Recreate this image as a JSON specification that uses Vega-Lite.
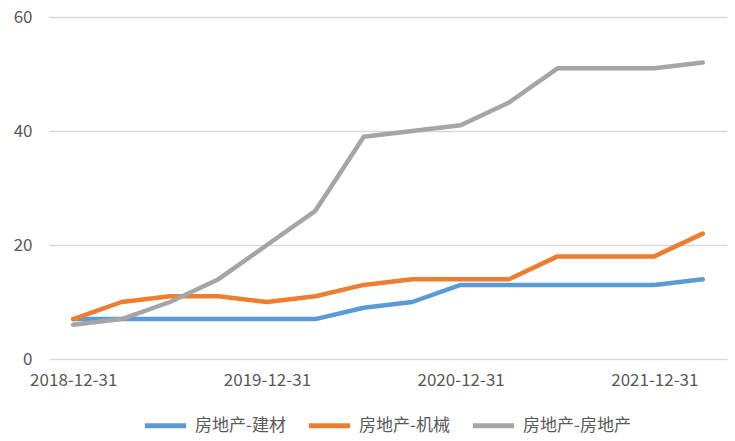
{
  "$schema": "https://vega.github.io/schema/vega-lite/v6.json",
  "width": 678,
  "height": 342,
  "autosize": {"type": "none"},
  "padding": {"left": 49, "top": 17, "right": 8, "bottom": 82},
  "background": "white",
  "config": {
    "view": {"stroke": null},
    "font": "Noto Sans CJK SC",
    "axis": {"labelFont": "Noto Sans CJK SC", "labelColor": "#595959", "labelFontSize": 17, "domain": false, "ticks": false, "title": null}
  },
  "data": {
    "values": [
      {"date": "2018-12-31", "s": "房地产-建材", "v": 7},
      {"date": "2019-03-31", "s": "房地产-建材", "v": 7},
      {"date": "2019-06-30", "s": "房地产-建材", "v": 7},
      {"date": "2019-09-30", "s": "房地产-建材", "v": 7},
      {"date": "2019-12-31", "s": "房地产-建材", "v": 7},
      {"date": "2020-03-31", "s": "房地产-建材", "v": 7},
      {"date": "2020-06-30", "s": "房地产-建材", "v": 9},
      {"date": "2020-09-30", "s": "房地产-建材", "v": 10},
      {"date": "2020-12-31", "s": "房地产-建材", "v": 13},
      {"date": "2021-03-31", "s": "房地产-建材", "v": 13},
      {"date": "2021-06-30", "s": "房地产-建材", "v": 13},
      {"date": "2021-09-30", "s": "房地产-建材", "v": 13},
      {"date": "2021-12-31", "s": "房地产-建材", "v": 13},
      {"date": "2022-03-31", "s": "房地产-建材", "v": 14},
      {"date": "2018-12-31", "s": "房地产-机械", "v": 7},
      {"date": "2019-03-31", "s": "房地产-机械", "v": 10},
      {"date": "2019-06-30", "s": "房地产-机械", "v": 11},
      {"date": "2019-09-30", "s": "房地产-机械", "v": 11},
      {"date": "2019-12-31", "s": "房地产-机械", "v": 10},
      {"date": "2020-03-31", "s": "房地产-机械", "v": 11},
      {"date": "2020-06-30", "s": "房地产-机械", "v": 13},
      {"date": "2020-09-30", "s": "房地产-机械", "v": 14},
      {"date": "2020-12-31", "s": "房地产-机械", "v": 14},
      {"date": "2021-03-31", "s": "房地产-机械", "v": 14},
      {"date": "2021-06-30", "s": "房地产-机械", "v": 18},
      {"date": "2021-09-30", "s": "房地产-机械", "v": 18},
      {"date": "2021-12-31", "s": "房地产-机械", "v": 18},
      {"date": "2022-03-31", "s": "房地产-机械", "v": 22},
      {"date": "2018-12-31", "s": "房地产-房地产", "v": 6},
      {"date": "2019-03-31", "s": "房地产-房地产", "v": 7},
      {"date": "2019-06-30", "s": "房地产-房地产", "v": 10},
      {"date": "2019-09-30", "s": "房地产-房地产", "v": 14},
      {"date": "2019-12-31", "s": "房地产-房地产", "v": 20},
      {"date": "2020-03-31", "s": "房地产-房地产", "v": 26},
      {"date": "2020-06-30", "s": "房地产-房地产", "v": 39},
      {"date": "2020-09-30", "s": "房地产-房地产", "v": 40},
      {"date": "2020-12-31", "s": "房地产-房地产", "v": 41},
      {"date": "2021-03-31", "s": "房地产-房地产", "v": 45},
      {"date": "2021-06-30", "s": "房地产-房地产", "v": 51},
      {"date": "2021-09-30", "s": "房地产-房地产", "v": 51},
      {"date": "2021-12-31", "s": "房地产-房地产", "v": 51},
      {"date": "2022-03-31", "s": "房地产-房地产", "v": 52}
    ]
  },
  "mark": {"type": "line", "strokeWidth": 4.5, "strokeJoin": "round", "strokeCap": "round"},
  "encoding": {
    "x": {
      "field": "date", "type": "ordinal", "sort": null,
      "scale": {"type": "point", "padding": 0.5},
      "axis": {"values": ["2018-12-31", "2019-12-31", "2020-12-31", "2021-12-31"], "labelAngle": 0, "grid": false, "labelPadding": 13}
    },
    "y": {
      "field": "v", "type": "quantitative",
      "scale": {"domain": [0, 60], "nice": false},
      "axis": {"values": [0, 20, 40, 60], "grid": true, "gridColor": "#D9D9D9", "gridWidth": 1.3, "labelPadding": 17}
    },
    "color": {
      "field": "s", "type": "nominal", "sort": ["房地产-建材", "房地产-机械", "房地产-房地产"],
      "scale": {"domain": ["房地产-建材", "房地产-机械", "房地产-房地产"], "range": ["#5B9BD5", "#ED7D31", "#A5A5A5"]},
      "legend": {
        "title": null, "orient": "none", "direction": "horizontal", "legendX": 93, "legendY": 385,
        "symbolType": "stroke", "symbolStrokeWidth": 5, "symbolSize": 1700,
        "labelFontSize": 17, "labelColor": "#595959", "columnPadding": 12, "labelOffset": 6
      }
    }
  }
}
